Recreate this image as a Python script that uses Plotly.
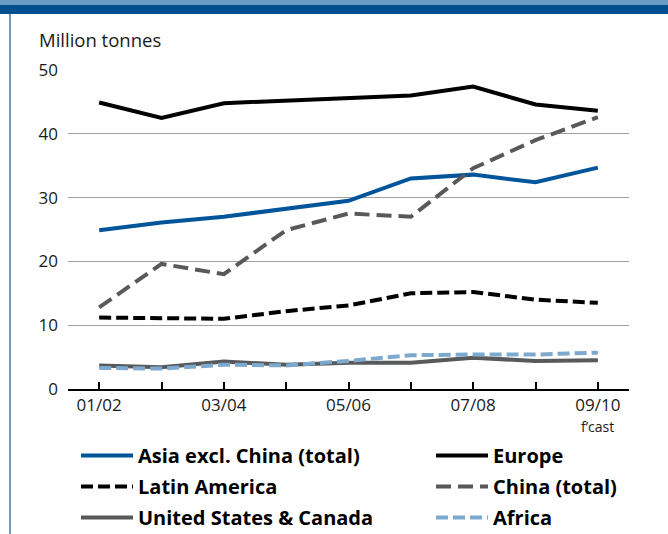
import plotly.graph_objects as go

years = ["01/02", "02/03", "03/04", "04/05", "05/06", "06/07", "07/08", "08/09", "09/10"]
tick_text = ["01/02", "", "03/04", "", "05/06", "", "07/08", "", "09/10"]
forecast_note = "f’cast"
y_ticks = [0, 10, 20, 30, 40, 50]

asia = [24.9, 26.1, 27.0, 28.2, 29.5, 33.0, 33.6, 32.4, 34.7]
europe = [44.9, 42.5, 44.8, 45.2, 45.6, 46.0, 47.4, 44.6, 43.6]
latin_america = [11.2, 11.1, 11.0, 12.2, 13.1, 15.0, 15.2, 14.0, 13.5]
china = [12.8, 19.6, 18.0, 24.9, 27.5, 27.0, 34.6, 39.0, 42.6]
us_canada = [3.7, 3.4, 4.3, 3.8, 4.1, 4.1, 4.9, 4.4, 4.5]
africa = [3.3, 3.2, 3.8, 3.7, 4.4, 5.3, 5.4, 5.4, 5.7]

series = [
    ("Asia excl. China (total)", asia, "#00559a", "solid", "legend"),
    ("Latin America", latin_america, "#000000", "12px,5px", "legend"),
    ("United States & Canada", us_canada, "#58595b", "solid", "legend"),
    ("Europe", europe, "#000000", "solid", "legend2"),
    ("China (total)", china, "#58595b", "15px,7px", "legend2"),
    ("Africa", africa, "#7ea9cf", "12px,5px", "legend2"),
]

FONT = "Open Sans"
fig = go.Figure()
x_idx = list(range(len(years)))
for i, (name, vals, color, dash, lg) in enumerate(series):
    fig.add_trace(go.Scatter(
        x=x_idx, y=vals, name=name, mode="lines",
        line=dict(color=color, width=4, dash=dash),
        cliponaxis=False, legend=lg, legendgroup=f"g{i}",
    ))

W, H = 668, 534
L, R, T, B = 68, 39, 70, 145
pw, ph = W - L - R, H - T - B

def px_x(px):
    return (px - L) / pw

def px_y(py):
    return (H - B - py) / ph

shapes = [
    dict(type="rect", xref="paper", yref="paper", x0=px_x(0), x1=px_x(W), y0=px_y(5), y1=px_y(0),
         fillcolor="#6a9bc3", line=dict(width=0), layer="above"),
    dict(type="rect", xref="paper", yref="paper", x0=px_x(0), x1=px_x(W), y0=px_y(14), y1=px_y(5),
         fillcolor="#00508f", line=dict(width=0), layer="above"),
    dict(type="line", xref="paper", yref="paper", x0=px_x(10), x1=px_x(10), y0=px_y(14), y1=px_y(H),
         line=dict(color="#6a9bc3", width=2)),
]

legend_common = dict(
    orientation="v", xanchor="left", yanchor="top", y=px_y(436),
    font=dict(size=20, family=FONT, color="#000", weight="bold"),
    tracegroupgap=2, bgcolor="rgba(0,0,0,0)", itemwidth=52,
)

fig.update_layout(
    width=W, height=H,
    margin=dict(l=L, r=R, t=T, b=B, autoexpand=False),
    paper_bgcolor="white", plot_bgcolor="white",
    font=dict(family=FONT, size=17, color="#1a1a1a"),
    shapes=shapes,
    xaxis=dict(
        range=[-0.5, 8.5], tickmode="array", tickvals=x_idx, ticktext=tick_text,
        ticks="inside", ticklen=7, tickwidth=2, tickcolor="#000",
        showline=True, linecolor="#000", linewidth=2, showgrid=False, zeroline=False,
        tickfont=dict(size=17, family=FONT),
    ),
    yaxis=dict(
        range=[0, 50], tickmode="array", tickvals=y_ticks,
        showgrid=True, gridcolor="#a0a0a0", gridwidth=1.3,
        zeroline=False, showline=False, ticks="", ticklabelstandoff=9,
        tickfont=dict(size=17, family=FONT),
    ),
    showlegend=True,
    legend=dict(legend_common, x=px_x(76)),
    legend2=dict(legend_common, x=px_x(431)),
    annotations=[
        dict(text="Million tonnes", xref="paper", yref="paper", x=px_x(37), y=px_y(40),
             xanchor="left", yanchor="middle", showarrow=False, font=dict(size=18.5, family=FONT)),
        dict(text=forecast_note, xref="x", yref="paper", x=x_idx[-1], y=px_y(426),
             xanchor="center", yanchor="middle", showarrow=False, font=dict(size=14, family=FONT)),
    ],
)

fig.write_html("out.html", config={"displayModeBar": False},
               post_script="document.body.style.margin='0px';")
